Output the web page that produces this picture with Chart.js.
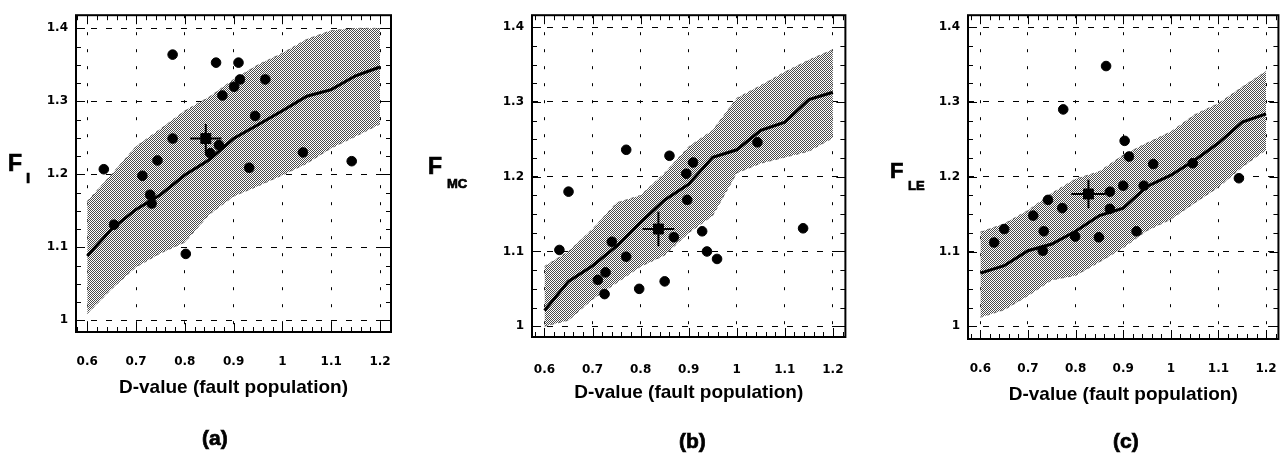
<!DOCTYPE html>
<html>
<head>
<meta charset="utf-8">
<script src="https://cdn.jsdelivr.net/npm/chart.js@4.4.0/dist/chart.umd.min.js"></script>
<style>
  html, body { margin:0; padding:0; background:#fff; }
  body { width:1288px; height:453px; overflow:hidden; position:relative; font-family:"Liberation Sans", Arial, sans-serif; }
  .cv { position:absolute; top:0; }
  .t { position:absolute; font-weight:bold; color:#000; white-space:nowrap; -webkit-text-stroke:0.7px #000; }
</style>
</head>
<body>
<canvas id="ca" class="cv" style="left:0px;width:430px;height:453px" width="430" height="453"></canvas>
<canvas id="cb" class="cv" style="left:430px;width:440px;height:453px" width="440" height="453"></canvas>
<canvas id="cc" class="cv" style="left:860px;width:440px;height:453px" width="440" height="453"></canvas>

<div class="t" style="left:8px;top:152px;font-size:23px;line-height:23px">F</div>
<div class="t" style="left:26px;top:170px;font-size:15px;line-height:15px">I</div>
<div class="t" style="left:428px;top:155px;font-size:23px;line-height:23px">F</div>
<div class="t" style="left:447px;top:177px;font-size:13px;line-height:13px">MC</div>
<div class="t" style="left:890px;top:160px;font-size:22px;line-height:22px">F</div>
<div class="t" style="left:908px;top:179px;font-size:13px;line-height:13px">LE</div>

<div class="t" style="left:202px;top:426px;font-size:21px;line-height:24px">(a)</div>
<div class="t" style="left:679px;top:429px;font-size:21px;line-height:24px">(b)</div>
<div class="t" style="left:1113px;top:429px;font-size:21px;line-height:24px">(c)</div>

<script>
// ---------- data ----------
const xTicks = [0.6, 0.7, 0.8, 0.9, 1.0, 1.1, 1.2];
const xTickLabels = ['0.6', '0.7', '0.8', '0.9', '1', '1.1', '1.2'];
const yTicks = [1.0, 1.1, 1.2, 1.3, 1.4];
const yTickLabels = ['1', '1.1', '1.2', '1.3', '1.4'];
const xTitle = 'D-value (fault population)';

const bandX = [0.6, 0.65, 0.7, 0.75, 0.8, 0.85, 0.9, 0.95, 1.0, 1.05, 1.1, 1.15, 1.2];

// panel (a) F_I
const aCenter = [1.088, 1.125, 1.152, 1.172, 1.199, 1.220, 1.249, 1.268, 1.287, 1.307, 1.316, 1.335, 1.347];
const aUpper  = [1.163, 1.200, 1.238, 1.262, 1.287, 1.306, 1.330, 1.350, 1.366, 1.385, 1.397, 1.400, 1.400];
const aLower  = [1.009, 1.043, 1.073, 1.092, 1.107, 1.145, 1.170, 1.184, 1.199, 1.215, 1.236, 1.252, 1.269];
const aDotX = [0.634, 0.655, 0.713, 0.729, 0.732, 0.744, 0.775, 0.775, 0.802, 0.852, 0.870, 0.864, 0.877, 0.901, 0.910, 0.913, 0.944, 0.932, 0.965, 1.042, 1.142];
const aDotY = [1.207, 1.131, 1.198, 1.172, 1.160, 1.219, 1.364, 1.249, 1.091, 1.229, 1.240, 1.353, 1.308, 1.320, 1.353, 1.330, 1.280, 1.209, 1.330, 1.230, 1.218];
const aMeanX = [0.843], aMeanY = [1.249], aErrX = [0.032], aErrY = [0.020];

// panel (b) F_MC
const bCenter = [1.021, 1.060, 1.081, 1.107, 1.139, 1.169, 1.190, 1.226, 1.236, 1.262, 1.273, 1.303, 1.313];
const bUpper  = [1.080, 1.100, 1.130, 1.165, 1.175, 1.205, 1.240, 1.262, 1.305, 1.322, 1.340, 1.356, 1.370];
const bLower  = [1.000, 1.008, 1.036, 1.058, 1.080, 1.095, 1.125, 1.148, 1.205, 1.218, 1.226, 1.234, 1.252];
const bDotX = [0.631, 0.650, 0.711, 0.725, 0.727, 0.740, 0.770, 0.770, 0.797, 0.850, 0.860, 0.869, 0.895, 0.897, 0.909, 0.928, 0.938, 0.959, 1.043, 1.138];
const bDotY = [1.102, 1.180, 1.062, 1.043, 1.072, 1.113, 1.236, 1.093, 1.050, 1.060, 1.228, 1.119, 1.204, 1.169, 1.219, 1.127, 1.100, 1.090, 1.246, 1.131];
const bMeanX = [0.837], bMeanY = [1.130], bErrX = [0.033], bErrY = [0.023];

// panel (c) F_LE
const cCenter = [1.071, 1.081, 1.101, 1.110, 1.127, 1.148, 1.158, 1.187, 1.202, 1.222, 1.245, 1.273, 1.284];
const cUpper  = [1.126, 1.137, 1.155, 1.178, 1.197, 1.207, 1.229, 1.245, 1.260, 1.283, 1.298, 1.320, 1.341];
const cLower  = [1.012, 1.022, 1.041, 1.062, 1.068, 1.086, 1.105, 1.128, 1.143, 1.165, 1.186, 1.213, 1.236];
const cDotX = [0.629, 0.650, 0.711, 0.731, 0.733, 0.742, 0.772, 0.774, 0.799, 0.849, 0.864, 0.872, 0.872, 0.900, 0.903, 0.912, 0.943, 0.928, 0.963, 1.046, 1.143];
const cDotY = [1.112, 1.130, 1.148, 1.101, 1.127, 1.169, 1.158, 1.290, 1.120, 1.119, 1.348, 1.180, 1.157, 1.188, 1.248, 1.227, 1.188, 1.127, 1.217, 1.218, 1.198];
const cMeanX = [0.827], cMeanY = [1.177], cErrX = [0.036], cErrY = [0.019];

// ---------- helpers ----------
function pts(xs, ys) { return xs.map((x, i) => ({ x: x, y: ys[i] })); }

function makePattern() {
  const p = document.createElement('canvas');
  p.width = 2; p.height = 2;
  const g = p.getContext('2d');
  g.fillStyle = '#ffffff'; g.fillRect(0, 0, 2, 2);
  g.fillStyle = '#4a4a4a'; g.fillRect(0, 0, 1, 1); g.fillRect(1, 1, 1, 1);
  return g.createPattern(p, 'repeat');
}

const framePlugin = {
  id: 'frame',
  afterDatasetsDraw(chart) {
    const { ctx, chartArea: a, scales: { x, y } } = chart;
    ctx.save();
    ctx.strokeStyle = '#000';
    ctx.lineWidth = 1;
    ctx.beginPath();
    for (let i = Math.ceil(x.min * 50); i <= Math.floor(x.max * 50); i++) {
      const v = i / 50, px = Math.round(x.getPixelForValue(v)) + 0.5;
      const len = (i % 5 === 0) ? 9 : 5;
      ctx.moveTo(px, a.bottom); ctx.lineTo(px, a.bottom - len);
      ctx.moveTo(px, a.top); ctx.lineTo(px, a.top + len);
    }
    for (let i = Math.ceil(y.min * 40); i <= Math.floor(y.max * 40); i++) {
      const v = i / 40, py = Math.round(y.getPixelForValue(v)) + 0.5;
      const len = (i % 4 === 0) ? 9 : 5;
      ctx.moveTo(a.left, py); ctx.lineTo(a.left + len, py);
      ctx.moveTo(a.right, py); ctx.lineTo(a.right - len, py);
    }
    ctx.stroke();
    const ds = chart.config._config.errorBars;
    if (ds) {
      ctx.lineWidth = 2;
      ds.mx.forEach((mx, i) => {
        const my = ds.my[i];
        const cx = x.getPixelForValue(mx), cy = y.getPixelForValue(my);
        ctx.beginPath();
        ctx.moveTo(x.getPixelForValue(mx - ds.ex[i]), cy);
        ctx.lineTo(x.getPixelForValue(mx + ds.ex[i]), cy);
        ctx.moveTo(cx, y.getPixelForValue(my - ds.ey[i]));
        ctx.lineTo(cx, y.getPixelForValue(my + ds.ey[i]));
        ctx.stroke();
      });
    }
    ctx.lineWidth = 2;
    ctx.strokeRect(a.left, a.top, a.right - a.left, a.bottom - a.top);
    ctx.restore();
  }
};

function makeChart(id, o) {
  const pattern = makePattern();
  const ctx = document.getElementById(id);
  return new Chart(ctx, {
    type: 'scatter',
    data: {
      datasets: [
        { label: 'upper', data: pts(bandX, o.upper), showLine: true, fill: '+1',
          backgroundColor: pattern, borderColor: 'rgba(80,80,80,0.7)', borderWidth: 1, borderDash: [3, 4],
          pointRadius: 0, order: 5 },
        { label: 'lower', data: pts(bandX, o.lower), showLine: true, fill: false,
          borderColor: 'rgba(80,80,80,0.7)', borderWidth: 1, borderDash: [3, 4], pointRadius: 0, order: 4 },
        { label: 'mean curve', data: pts(bandX, o.center), showLine: true, fill: false,
          borderColor: '#000', borderWidth: 3, pointRadius: 0, order: 3 },
        { label: 'data', data: pts(o.dx, o.dy), showLine: false,
          backgroundColor: '#000', borderColor: '#000', pointRadius: 4.8, pointStyle: 'circle', order: 2 },
        { label: 'mean', data: pts(o.mx, o.my), showLine: false,
          backgroundColor: '#000', borderColor: '#000', pointRadius: 7, pointStyle: 'rect', order: 1 }
      ]
    },
    errorBars: { mx: o.mx, my: o.my, ex: o.ex, ey: o.ey },
    options: {
      responsive: false,
      animation: false,
      events: [],
      layout: { padding: { left: 0, top: o.top, right: o.right, bottom: o.bottom } },
      plugins: { legend: { display: false }, tooltip: { enabled: false } },
      scales: {
        x: {
          type: 'linear', min: o.xmin, max: o.xmax,
          afterBuildTicks: s => { s.ticks = xTicks.map(v => ({ value: v })); },
          afterFit: s => { s.height = o.xh; },
          ticks: {
            padding: o.tpad, color: '#000',
            font: { family: 'DejaVu Sans', weight: 'bold', size: 12 },
            callback: v => xTickLabels[xTicks.findIndex(t => Math.abs(t - v) < 1e-6)]
          },
          grid: { color: '#000', lineWidth: 1, drawTicks: false },
          border: { display: false, dash: [3, 14] },
          title: { display: true, text: xTitle, color: '#000', padding: 0,
            font: { family: 'Liberation Sans', weight: 'bold', size: 19 } }
        },
        y: {
          type: 'linear', min: o.ymin, max: o.ymax,
          afterBuildTicks: s => { s.ticks = yTicks.map(v => ({ value: v })); },
          afterFit: s => { s.width = o.left; },
          ticks: {
            padding: o.ypad, color: '#000',
            font: { family: 'DejaVu Sans', weight: 'bold', size: 12 },
            callback: v => yTickLabels[yTicks.findIndex(t => Math.abs(t - v) < 1e-6)]
          },
          grid: { color: '#000', lineWidth: 1, drawTicks: false },
          border: { display: false, dash: [6, 9] }
        }
      }
    },
    plugins: [framePlugin]
  });
}

makeChart('ca', { upper: aUpper, lower: aLower, center: aCenter, dx: aDotX, dy: aDotY,
  mx: aMeanX, my: aMeanY, ex: aErrX, ey: aErrY,
  left: 76, top: 12, right: 39, bottom: 53.6, xh: 67.4, tpad: 23, ypad: 8,
  xmin: 0.577, xmax: 1.2225, ymin: 0.984, ymax: 1.418 });

makeChart('cb', { upper: bUpper, lower: bLower, center: bCenter, dx: bDotX, dy: bDotY,
  mx: bMeanX, my: bMeanY, ex: bErrX, ey: bErrY,
  left: 102, top: 9, right: 12, bottom: 48.6, xh: 67.4, tpad: 26, ypad: 8,
  xmin: 0.574, xmax: 1.226, ymin: 0.9856, ymax: 1.416 });

makeChart('cc', { upper: cUpper, lower: cLower, center: cCenter, dx: cDotX, dy: cDotY,
  mx: cMeanX, my: cMeanY, ex: cErrX, ey: cErrY,
  left: 108, top: 10, right: 4, bottom: 46.6, xh: 67.4, tpad: 23, ypad: 8,
  xmin: 0.574, xmax: 1.226, ymin: 0.983, ymax: 1.416 });
</script>
</body>
</html>
